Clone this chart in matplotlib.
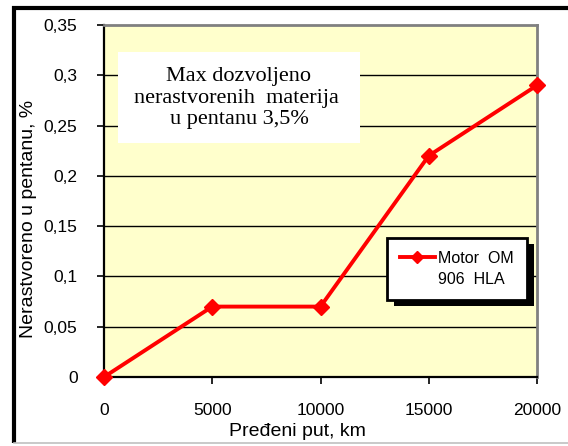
import matplotlib
matplotlib.use("Agg")
import matplotlib.pyplot as plt
from matplotlib.patches import Rectangle
from matplotlib.lines import Line2D
from matplotlib.legend_handler import HandlerLine2D

# Data
distance_km = [0, 5000, 10000, 15000, 20000]
undissolved_pct = [0.0, 0.07, 0.07, 0.22, 0.29]
y_ticks = [0, 0.05, 0.10, 0.15, 0.20, 0.25, 0.30, 0.35]
y_tick_labels = ["0", "0,05", "0,1", "0,15", "0,2", "0,25", "0,3", "0,35"]
x_ticks = [0, 5000, 10000, 15000, 20000]
x_tick_labels = ["0", "5000", "10000", "15000", "20000"]
series_label = "Motor  OM\n906  HLA"
note_text = "Max dozvoljeno\nnerastvorenih  materija \nu pentanu 3,5%"

W, H = 568, 446
fig = plt.figure(figsize=(W / 100, H / 100), dpi=100)
fig.patch.set_facecolor("white")

sans = "Liberation Sans"
serif = "Liberation Serif"


class FirstLineHandler(HandlerLine2D):
    """Legend handler that lines the sample up with the first text line."""

    def create_artists(self, legend, orig_handle, xdescent, ydescent, width, height,
                       fontsize, trans):
        arts = super().create_artists(legend, orig_handle, xdescent, ydescent, width,
                                      height, fontsize, trans)
        for a in arts:
            a.set_ydata([y + 0.74 * fontsize for y in a.get_ydata()])
        return arts


# Outer chart frame: heavy black top/left, thin grey bottom
fig.add_artist(Line2D([12 / W, 1.0], [1 - 8 / H, 1 - 8 / H], color="black", lw=3.0,
                      transform=fig.transFigure, solid_capstyle="butt"))
fig.add_artist(Line2D([14 / W, 14 / W], [1 - 6 / H, 1 - 443 / H], color="black", lw=3.0,
                      transform=fig.transFigure, solid_capstyle="butt"))
fig.add_artist(Line2D([14 / W, 1.0], [1 - 443 / H, 1 - 443 / H], color="#c0c0c0", lw=1.2,
                      transform=fig.transFigure))

left, right, top, bottom = 104, 537, 25, 377
ax = fig.add_axes([left / W, 1 - bottom / H, (right - left) / W, (bottom - top) / H])
ax.set_facecolor("#ffffcc")

ax.set_xlim(0, 20000)
ax.set_ylim(0, 0.35)

# Horizontal gridlines
for yv in y_ticks[1:-1]:
    ax.axhline(yv, color="black", lw=1.0, zorder=1)

ax.plot(distance_km, undissolved_pct, color="#ff0000", lw=2.8, marker="D", ms=8,
        mec="#ff0000", mfc="#ff0000", clip_on=False, zorder=4, label=series_label)

ax.set_xticks(x_ticks)
ax.set_xticklabels(x_tick_labels, fontfamily=sans, fontsize=12.5)
ax.set_yticks(y_ticks)
ax.set_yticklabels(y_tick_labels, fontfamily=sans, fontsize=12.5)
ax.tick_params(axis="both", direction="out", length=5, width=1.2, color="black", pad=14)

for s in ("left", "bottom"):
    ax.spines[s].set_color("black")
    ax.spines[s].set_linewidth(1.6)
for s in ("right", "top"):
    ax.spines[s].set_color("#808080")
    ax.spines[s].set_linewidth(2.0)

ax.set_xlabel("Pređeni put, km", fontfamily=sans, fontsize=14, va="center")
ax.set_ylabel("Nerastvoreno u pentanu, %", fontfamily=sans, fontsize=14, va="center")
ax.xaxis.set_label_coords((297 - left) / (right - left), (bottom - 431) / (bottom - top))
ax.yaxis.set_label_coords((29 - left) / (right - left), (bottom - 219) / (bottom - top))

# Annotation box
bx0, bx1, by0, by1 = 118, 360, 52, 143
ax.add_patch(Rectangle(((bx0 - left) / (right - left), (bottom - by1) / (bottom - top)),
                       (bx1 - bx0) / (right - left), (by1 - by0) / (bottom - top),
                       transform=ax.transAxes, facecolor="white", edgecolor="none", zorder=3))
ax.text((239 - left) / (right - left), (bottom - 98) / (bottom - top), note_text,
        transform=ax.transAxes, ha="center", va="center", multialignment="center",
        fontfamily=serif, fontsize=16, linespacing=1.15, zorder=5)

# Legend with a solid black drop shadow
leg = ax.legend(loc="upper left",
                bbox_to_anchor=((387 - left) / (right - left), (bottom - 238) / (bottom - top)),
                frameon=True, fancybox=False, handlelength=2.2, handletextpad=0.2,
                borderpad=0.8, borderaxespad=0, prop={"family": sans, "size": 11.5},
                labelspacing=0.6, markerscale=0.75,
                handler_map={Line2D: FirstLineHandler()})
for t in leg.get_texts():
    t.set_linespacing(1.5)
leg.get_frame().set_edgecolor("black")
leg.get_frame().set_linewidth(2.0)
leg.get_frame().set_facecolor("white")
leg.get_frame().set_alpha(1)
leg.set_zorder(6)

fig.canvas.draw()
bb = leg.get_window_extent()
off_x, off_y = 7, 6
shadow = Rectangle(((bb.x0 + off_x) / W, (bb.y0 - off_y) / H), bb.width / W, bb.height / H,
                   transform=fig.transFigure, facecolor="black", edgecolor="none", zorder=5.5)
ax.add_artist(shadow)
shadow.set_clip_on(False)

fig.savefig("out.png", dpi=100)
